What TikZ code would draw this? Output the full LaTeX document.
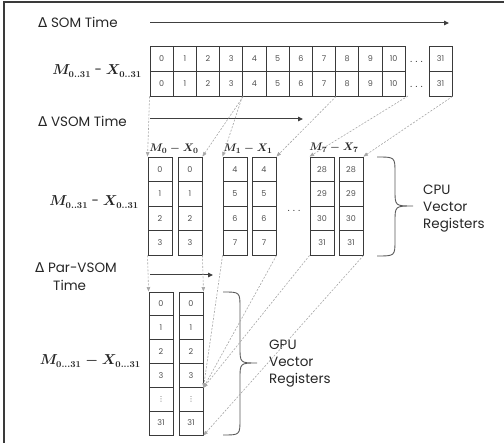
\documentclass[tikz,border=0pt]{standalone}
\usepackage{fontspec}
\setmainfont{Poppins}
\newfontfamily\symfont{DejaVu Sans}
\usetikzlibrary{arrows.meta}

\definecolor{cellc}{HTML}{3A3A3A}
\definecolor{numc}{HTML}{505050}
\definecolor{txtc}{HTML}{262626}
\definecolor{dashc}{HTML}{A6A6A6}
\definecolor{timec}{HTML}{404040}
\definecolor{bracec}{HTML}{595959}

\tikzset{
  cell/.style={draw=cellc, line width=0.9pt, inner sep=0pt, text=numc,
    font=\fontsize{8}{9}\selectfont},
  somcell/.style={cell, minimum width=23.2pt, minimum height=25pt},
  regcell/.style={cell, minimum width=24pt, minimum height=24.5pt},
  gpucell/.style={cell, minimum width=24pt, minimum height=23.83pt},
  txt/.style={text=txtc, inner sep=0pt, font=\fontsize{13.5}{16}\selectfont},
  mathlab/.style={text=txtc, inner sep=0pt, font=\fontsize{13.5}{16}\selectfont\boldmath},
  reglab/.style={text=txtc, inner sep=0pt, font=\fontsize{11}{13}\selectfont\boldmath},
  dotsym/.style={text=txtc, inner sep=0pt, font=\fontsize{12}{14}\selectfont},
  timearrow/.style={draw=timec, line width=1pt, -{Triangle[length=5pt,width=4.5pt]}},
  maparrow/.style={draw=dashc, line width=0.6pt, dash pattern=on 2pt off 1.5pt,
    -{Triangle[length=4.5pt,width=3.5pt]}},
  bracepath/.style={draw=bracec, line width=0.9pt},
  frameline/.style={draw=cellc, line width=1.4pt}
}

\begin{document}
\begin{tikzpicture}[x=1pt,y=-1pt]
\useasboundingbox (0,0) rectangle (504,443);

% frame
\draw[frameline] (504,2) -- (4,2) -- (4,443);

% ---------- SOM: two long rows ----------
\node[txt, anchor=base west] (tsom) at (38,28) {{\symfont Δ} SOM Time};
\coordinate (somA) at (150,23);
\coordinate (somB) at (449,23);
\draw[timearrow] (somA) -- (somB);

\foreach \i in {0,...,10} {
  \node[somcell] (sa\i) at ({161.6+23.2*\i},58.5) {\i};
  \node[somcell] (sb\i) at ({161.6+23.2*\i},83.5) {\i};
}
\node[somcell, minimum width=23pt] (sa31) at (440.5,58.5) {31};
\node[somcell, minimum width=23pt] (sb31) at (440.5,83.5) {31};
\node[dotsym] (da) at (416.5,62) {$\ldots$};
\node[dotsym] (db) at (416.5,87) {$\ldots$};
\coordinate (c28) at (408,96);

\node[mathlab, anchor=east] (lsom) at (142,71) {$M_{0..31}$ - $X_{0..31}$};

% ---------- VSOM: CPU vector registers ----------
\node[txt, anchor=base west] (tvsom) at (38,127) {{\symfont Δ} VSOM Time};
\coordinate (vsA) at (150,119);
\coordinate (vsB) at (303,119);
\draw[timearrow] (vsA) -- (vsB);

\foreach \c/\x/\s in {0/160/0,1/190/0,2/235/4,3/264/4,4/322/28,5/351/28} {
  \foreach \r in {0,...,3} {
    \pgfmathtruncatemacro\n{\s+\r}
    \node[regcell] (v\c-\r) at (\x,{169.25+24.5*\r}) {\n};
  }
}
\node[reglab] (m0) at (174,149) {$M_0 - X_0$};
\node[reglab] (m1) at (248,149) {$M_1 - X_1$};
\node[reglab] (m7) at (334,148) {$M_7 - X_7$};
\node[dotsym] (dv) at (294,211) {$\ldots$};

\node[mathlab, anchor=east] (lvsom) at (139,202) {$M_{0..31}$ - $X_{0..31}$};

\draw[bracepath] (377,157) .. controls (395,157) .. (395,173) -- (395,190)
  .. controls (395,206) .. (413,206) .. controls (395,206) .. (395,222)
  -- (395,240) .. controls (395,256) .. (377,256);
\node[txt, anchor=base west] (cpu) at (423,195) {CPU};
\node[txt, anchor=base west] (cpu2) at (423,212) {Vector};
\node[txt, anchor=base west] (cpu3) at (423,229) {Registers};

% ---------- Par-VSOM: GPU vector registers ----------
\node[txt, anchor=base west] (tpar) at (35,273) {{\symfont Δ} Par-VSOM};
\node[txt, anchor=base west] (tpar2) at (53,291) {Time};
\coordinate (pvA) at (150,275);
\coordinate (pvB) at (213,275);
\draw[timearrow] (pvA) -- (pvB);

\foreach \c/\x in {0/161,1/191} {
  \foreach \r/\t in {0/0,1/1,2/2,3/3,4/{{\symfont\fontsize{7}{8}\selectfont ⋮}},5/31} {
    \node[gpucell] (g\c-\r) at (\x,{292+23.83*(\r+0.5)}) {\t};
  }
}
\node[mathlab, anchor=east] (lgpu) at (141,361) {$M_{0...31} - X_{0...31}$};

\draw[bracepath] (223,292) .. controls (240,292) .. (240,308) -- (240,347)
  .. controls (240,363) .. (257,363) .. controls (240,363) .. (240,379)
  -- (240,419) .. controls (240,435) .. (223,435);
\node[txt, anchor=base west] (gpu) at (269,350) {GPU};
\node[txt, anchor=base west] (gpu2) at (269,367) {Vector};
\node[txt, anchor=base west] (gpu3) at (269,384) {Registers};

% ---------- mapping connectors ----------
\draw[maparrow] (sb0.south west) -- (v0-0.north west);
\draw[maparrow] (sb3.south east) -- (v1-0.north east);
\draw[maparrow] (sb4.south west) -- (v2-0.north west);
\draw[maparrow] (sb7.south east) -- (v3-0.north east);
\draw[maparrow] (c28) -- (v4-0.north west);
\draw[maparrow] (sb31.south east) -- (v5-0.north east);

\draw[maparrow] (v0-3.south west) -- (g0-0.north west);
\draw[maparrow] (v1-3.south east) -- (g1-0.north east);
\draw[maparrow] (v2-3.south west) -- (g1-3.south east);
\draw[maparrow] (v3-3.south east) -- (g1-3.south east);
\draw[maparrow] (v4-3.south west) -- (g1-3.south east);
\draw[maparrow] (v5-3.south east) -- (g1-5.south east);
\end{tikzpicture}
\end{document}
